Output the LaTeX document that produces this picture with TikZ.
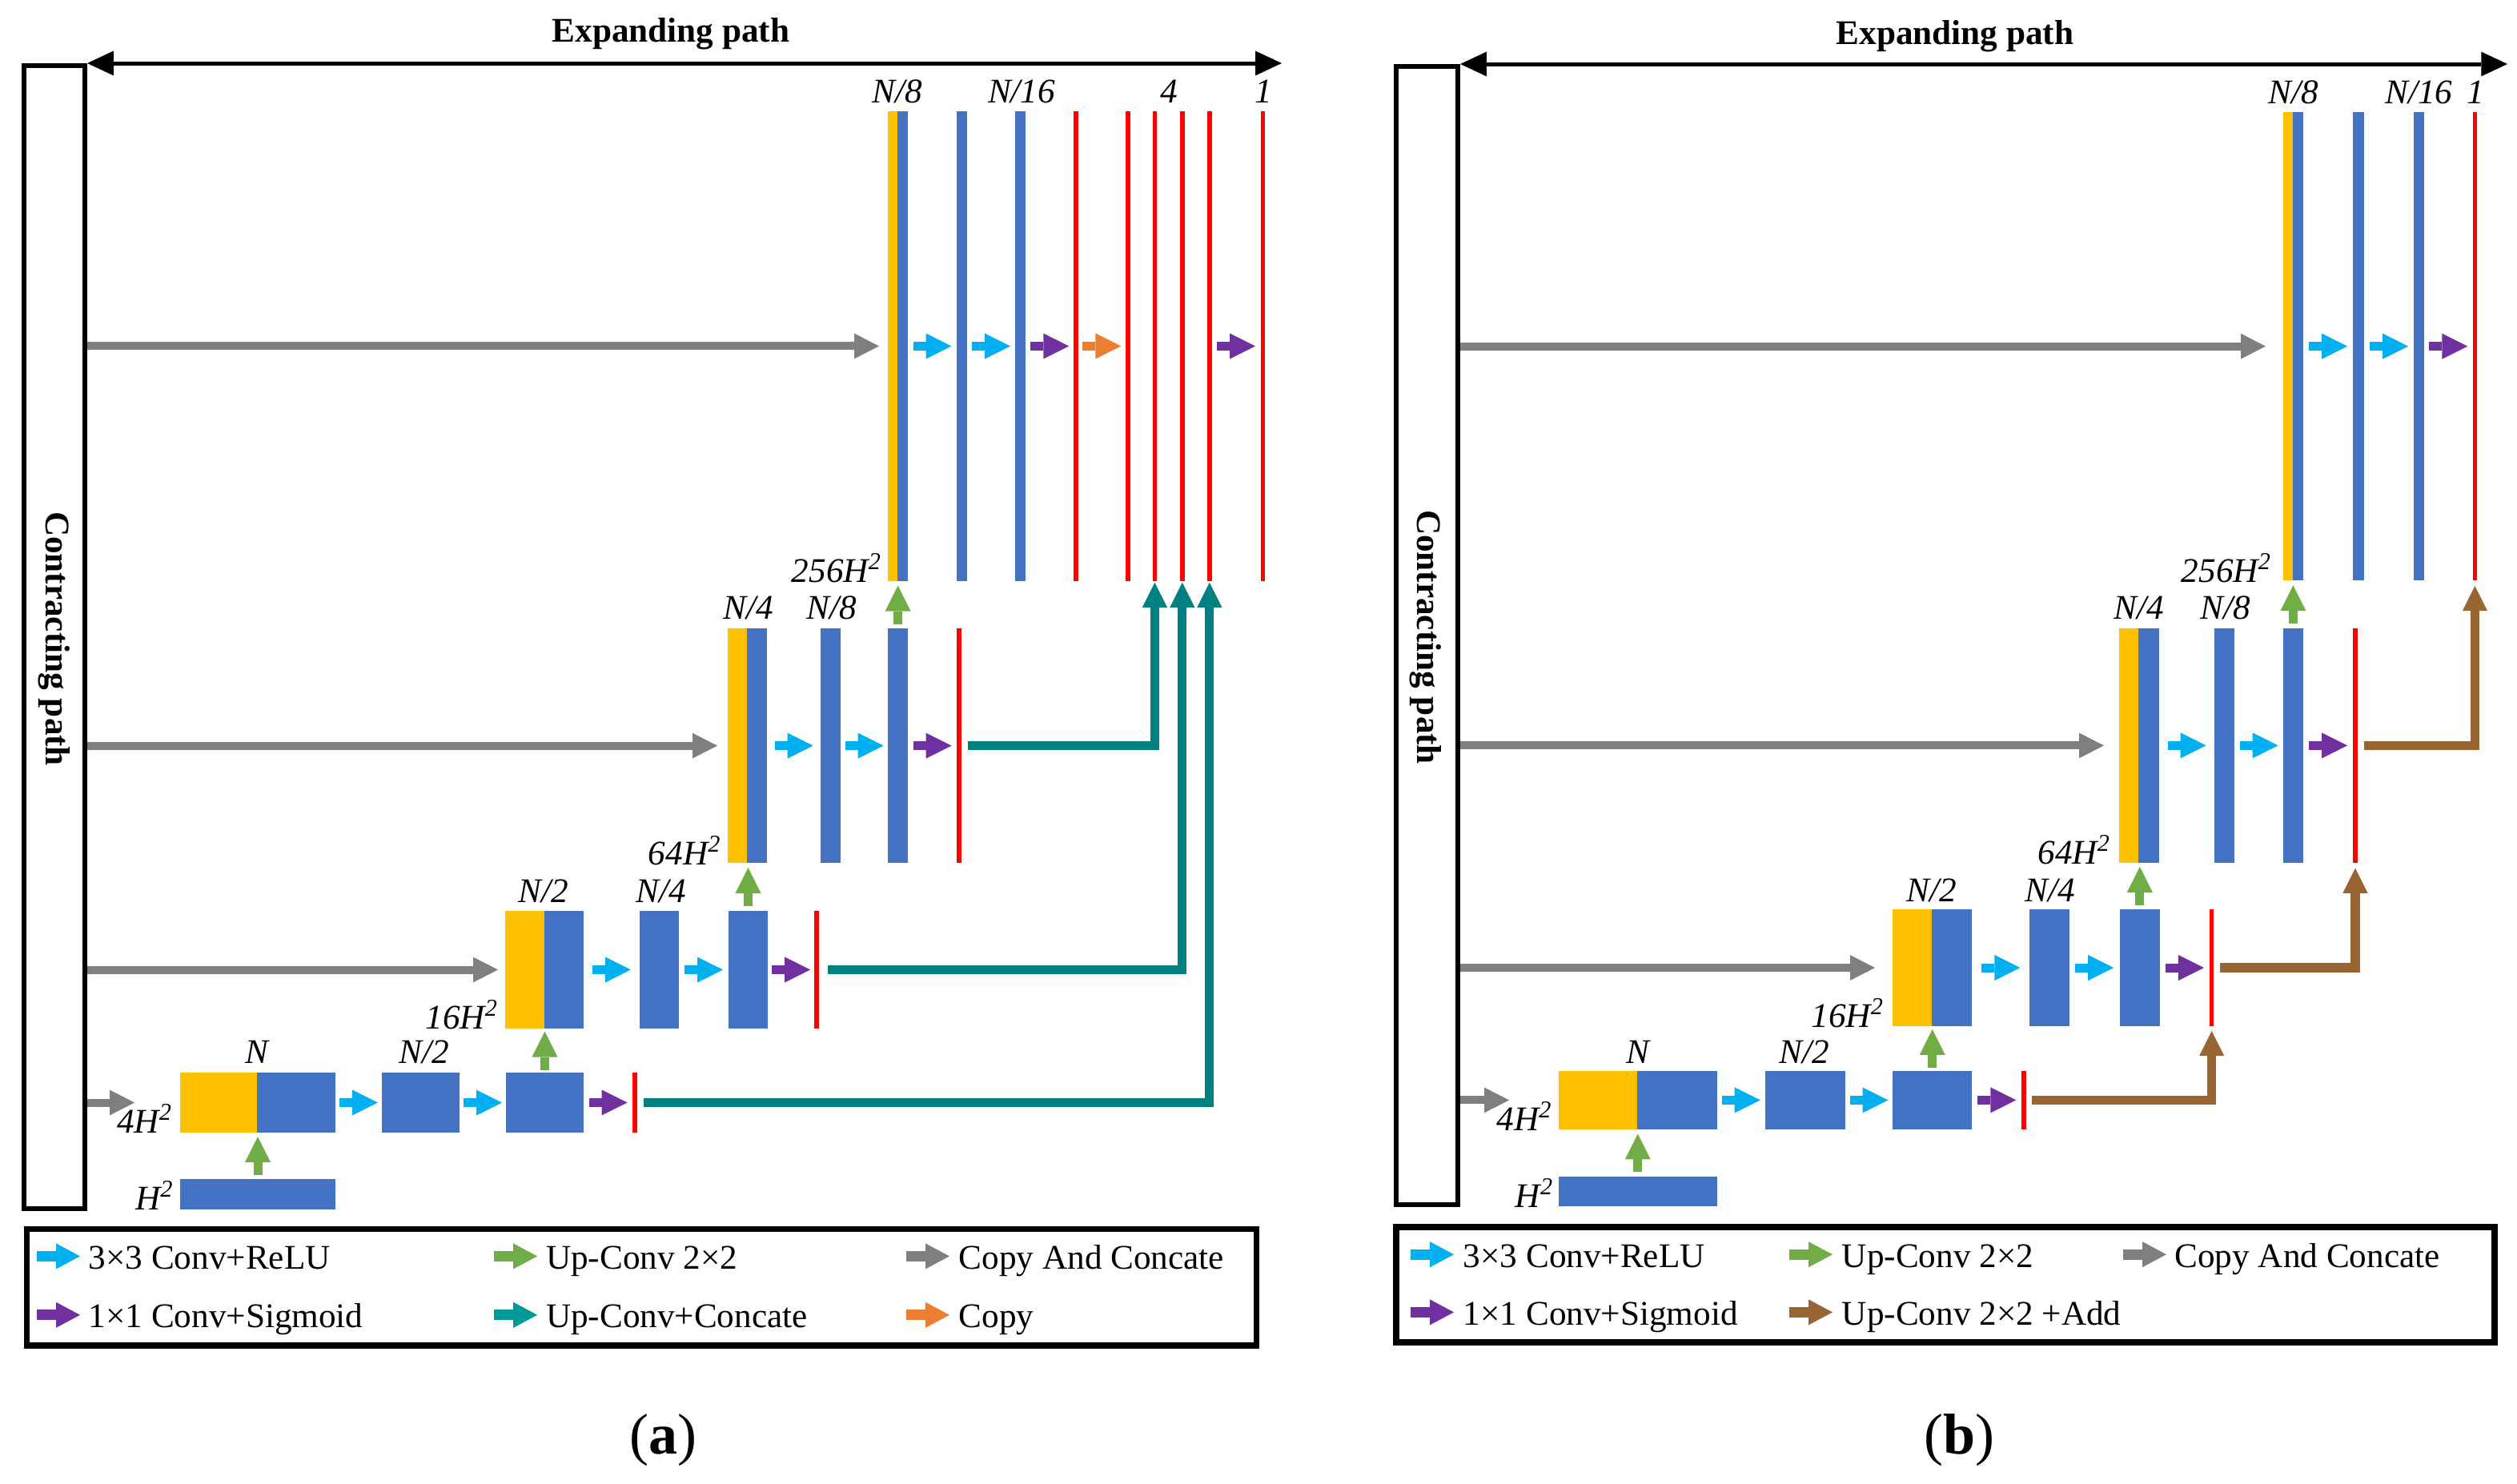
\documentclass[tikz,border=0pt]{standalone}
\usepackage{fontspec}
\setmainfont{Liberation Serif}
\usetikzlibrary{arrows.meta,calc,fit}
\definecolor{yel}{HTML}{FFC000}
\definecolor{blu}{HTML}{4472C4}
\definecolor{cya}{HTML}{00B0F0}
\definecolor{grn}{HTML}{70AD47}
\definecolor{gry}{HTML}{7F7F7F}
\definecolor{pur}{HTML}{7030A0}
\definecolor{tea}{HTML}{008080}
\definecolor{teaL}{HTML}{009999}
\definecolor{ora}{HTML}{ED7D31}
\definecolor{brn}{HTML}{996633}
\definecolor{redc}{HTML}{FF0000}
\newcommand\bx[6]{\node[bar,fill=#6,fit={(#2,#4) (#3,#5)}] (#1) {};}
\newcommand\rl[4]{\node[bar,fill=redc,fit={(#2-1.35,#3) (#2+1.35,#4)}] (#1) {};}
\newcommand\legitem[6]{\coordinate (#1) at (#2,#3); \draw[leg,#4] (#1) -- ++(27,0);
  \node[anchor=base west,inner sep=0pt] (#1t) at (#6,#3+8) {#5};}
\newcommand\HH[1]{#1H\textsuperscript{2}}
\begin{document}
\fontsize{10.8}{13}\selectfont
\begin{tikzpicture}[x=0.5pt,y=-0.5pt,
  bar/.style={inner sep=0pt,outer sep=0pt,draw=none},
  lbl/.style={inner sep=0pt,outer sep=0pt,font=\itshape,anchor=base},
  lble/.style={inner sep=0pt,outer sep=0pt,font=\itshape,anchor=base east},
  blk/.style={line width=2.75pt,-{Triangle[length=8pt,width=8pt,line width=0pt]}},
  cpyarr/.style={line width=2.5pt,color=gry,-{Triangle[length=7.7pt,width=7.9pt,line width=0pt]}},
  conn/.style={line width=2.8pt,-{Triangle[length=7.8pt,width=7.8pt,line width=0pt]}},
  leg/.style={line width=3.3pt,-{Triangle[length=7.5pt,width=8pt,line width=0pt]}},
  exparr/.style={line width=1.25pt,{Triangle[length=8.2pt,width=7.7pt,line width=0pt]}-{Triangle[length=8.2pt,width=7.7pt,line width=0pt]}},
  midh/.style={to path={($(\tikztostart.east)!0.5!(\tikztotarget.west)+(-12,0)$) -- ++(24,0)}},
  midv/.style={to path={($(\tikztostart.north)!0.5!(\tikztotarget)+(0,12)$) -- ++(0,-24)}},
  cpbox/.style={draw,line width=1.5pt,inner sep=0pt},
  legbox/.style={draw,line width=1.8pt,inner sep=0pt},
]
\useasboundingbox (0,0) rectangle (1572,926.5);

%%%%%%%%%%%%%%%%%%%% PANEL (a) %%%%%%%%%%%%%%%%%%%%
\node[cpbox,minimum width=19pt,minimum height=357pt] (cpA) at (34,398) {};
\node[font=\bfseries,rotate=-90] (cpAt) at (34,399) {Contracting path};
\coordinate (expAe) at (800.5,39.5);
\draw[exparr] (cpA.north east) -- (expAe);
\node[font=\bfseries,anchor=base,inner sep=0pt] (expAt) at (419,26.3) {Expanding path};

% row 1
\bx{A1y}{554.5}{560.6}{69.4}{363}{yel}
\bx{A1b}{560.6}{567}{69.4}{363}{blu}
\bx{A1c}{597.5}{604}{69.4}{363}{blu}
\bx{A1d}{634}{640.7}{69.4}{363}{blu}
\rl{R1}{671.9}{69.4}{363}
\rl{R2}{704.4}{69.4}{363}
\rl{R3}{721.2}{69.4}{363}
\rl{R4}{738.4}{69.4}{363}
\rl{R5}{755.4}{69.4}{363}
\rl{R6}{788.6}{69.4}{363}
\draw[cpyarr,shorten >=2.75pt] (cpA.east |- A1y.west) -- (A1y.west);
\draw[blk,cya] (A1b) to[midh] (A1c);
\draw[blk,cya] (A1c) to[midh] (A1d);
\draw[blk,pur] (A1d) to[midh] (R1);
\draw[blk,ora] (R1) to[midh] (R2);
\draw[blk,pur] (R5) to[midh] (R6);
\node[lbl] (la1) at (560.4,64) {N/8};
\node[lbl] (la2) at (638,64) {N/16};
\node[lbl] (la3) at (730,64) {4};
\node[lbl] (la4) at (789,64) {1};
\node[lble] (la5) at (551,363.5) {\HH{256}};

% row 2
\bx{A2y}{454.4}{466.6}{392.6}{539}{yel}
\bx{A2b}{466.6}{479}{392.6}{539}{blu}
\bx{A2c}{512.5}{525}{392.6}{539}{blu}
\bx{A2d}{554.6}{567}{392.6}{539}{blu}
\rl{A2r}{599}{392.6}{539}
\draw[cpyarr,shorten >=3.2pt] (cpA.east |- A2y.west) -- (A2y.west);
\draw[blk,cya] (A2b) to[midh] (A2c);
\draw[blk,cya] (A2c) to[midh] (A2d);
\draw[blk,pur] (A2d) to[midh] (A2r);
\draw[blk,grn] (A2d) to[midv] (A2d.north |- A1b.south);
\draw[conn,tea,shorten <=2.1pt,shorten >=0.45pt] (A2r.east) -| (R3.south);
\node[lbl] (la6) at (467.5,386.6) {N/4};
\node[lbl] (la7) at (519.5,386.6) {N/8};
\node[lble] (la8) at (450.7,540) {\HH{64}};

% row 3
\bx{A3y}{315.3}{340}{569}{642.5}{yel}
\bx{A3b}{340}{364.4}{569}{642.5}{blu}
\bx{A3c}{399.5}{424}{569}{642.5}{blu}
\bx{A3d}{455}{479.5}{569}{642.5}{blu}
\rl{A3r}{510}{569}{642.5}
\draw[cpyarr,shorten >=2.15pt] (cpA.east |- A3y.west) -- (A3y.west);
\draw[blk,cya] (A3b) to[midh] (A3c);
\draw[blk,cya] (A3c) to[midh] (A3d);
\draw[blk,pur] (A3d) to[midh] (A3r);
\draw[blk,grn] (A3d) to[midv] (A3d.north |- A2y.south);
\draw[conn,tea,shorten <=2.8pt,shorten >=0.45pt] (A3r.east) -| (R4.south);
\node[lbl] (la9) at (339.5,563.8) {N/2};
\node[lbl] (la10) at (413,563.8) {N/4};
\node[lble] (la11) at (311.5,642.5) {\HH{16}};

% row 4
\bx{A4y}{112.6}{160.7}{670}{707.5}{yel}
\bx{A4b}{160.7}{209.4}{670}{707.5}{blu}
\bx{A4c}{238.5}{287}{670}{707.5}{blu}
\bx{A4d}{316}{364.5}{670}{707.5}{blu}
\rl{A4r}{396.4}{670}{707.5}
\bx{A0}{112.6}{209.4}{736.7}{755.3}{blu}
\coordinate (g4A) at (84,688.75);
\draw[cpyarr] (cpA.east |- g4A) -- (g4A);
\draw[blk,cya] (A4b) to[midh] (A4c);
\draw[blk,cya] (A4c) to[midh] (A4d);
\draw[blk,pur] (A4d) to[midh] (A4r);
\draw[blk,grn] (A0) to[midv] (A0.north |- A4y.south);
\draw[blk,grn] (A4d) to[midv] (A4d.north |- A3y.south);
\draw[conn,tea,shorten <=2.1pt,shorten >=0.45pt] (A4r.east) -| (R5.south);
\node[lbl] (la12) at (160.7,664) {N};
\node[lbl] (la13) at (265,664) {N/2};
\node[lble] (la14) at (108,707.5) {\HH{4}};
\node[lble] (la15) at (108.7,755.8) {\HH{}};

% legend (a)
\node[legbox,minimum width=384pt,minimum height=36.4pt] (legA) at (400.7,804.1) {};
\legitem{lA1}{23}{784.7}{cya}{3×3 Conv+ReLU}{55}
\legitem{lA2}{308.6}{784.7}{grn}{Up-Conv 2×2}{340.6}
\legitem{lA3}{566}{784.7}{gry}{Copy And Concate}{598.5}
\legitem{lA4}{23}{821.4}{pur}{1×1 Conv+Sigmoid}{55}
\legitem{lA5}{308.6}{821.4}{teaL}{Up-Conv+Concate}{340.6}
\legitem{lA6}{566}{821.4}{ora}{Copy}{598.5}
\node[font=\fontsize{18}{21}\selectfont] (capA) at (414,899.5) {(\textbf{a})};

%%%%%%%%%%%%%%%%%%%% PANEL (b) %%%%%%%%%%%%%%%%%%%%
\node[cpbox,minimum width=19.25pt,minimum height=355.6pt] (cpB) at (891.25,397.1) {};
\node[font=\bfseries,rotate=-90] (cpBt) at (890.5,398) {Contracting path};
\coordinate (expBe) at (1566,40);
\draw[exparr] (cpB.north east) -- (expBe);
\node[font=\bfseries,anchor=base,inner sep=0pt] (expBt) at (1221,27.5) {Expanding path};

% row 1
\bx{B1y}{1426}{1432}{70}{362.6}{yel}
\bx{B1b}{1432}{1438.4}{70}{362.6}{blu}
\bx{B1c}{1469.7}{1476.6}{70}{362.6}{blu}
\bx{B1d}{1507.5}{1514}{70}{362.6}{blu}
\rl{B1r}{1545.7}{70}{362.6}
\draw[cpyarr,shorten >=5.5pt] (cpB.east |- B1y.west) -- (B1y.west);
\draw[blk,cya] (B1b) to[midh] (B1c);
\draw[blk,cya] (B1c) to[midh] (B1d);
\draw[blk,pur] (B1d) to[midh] (B1r);
\node[lbl] (lb1) at (1432.4,64.7) {N/8};
\node[lbl] (lb2) at (1510.7,64.7) {N/16};
\node[lbl] (lb3) at (1546,64.7) {1};
\node[lble] (lb4) at (1419,363.5) {\HH{256}};

% row 2
\bx{B2y}{1323.3}{1335.7}{392.6}{538.8}{yel}
\bx{B2b}{1335.7}{1348.6}{392.6}{538.8}{blu}
\bx{B2c}{1383}{1395.6}{392.6}{538.8}{blu}
\bx{B2d}{1426}{1438.4}{392.6}{538.8}{blu}
\rl{B2r}{1471}{392.6}{538.8}
\draw[cpyarr,shorten >=4.65pt] (cpB.east |- B2y.west) -- (B2y.west);
\draw[blk,cya] (B2b) to[midh] (B2c);
\draw[blk,cya] (B2c) to[midh] (B2d);
\draw[blk,pur] (B2d) to[midh] (B2r);
\draw[blk,grn] (B2d) to[midv] (B2d.north |- B1b.south);
\draw[conn,brn,shorten <=2.1pt,shorten >=1.7pt] (B2r.east) -| (B1r.south);
\node[lbl] (lb5) at (1335.7,386.8) {N/4};
\node[lbl] (lb6) at (1390,386.8) {N/8};
\node[lble] (lb7) at (1318.5,539.7) {\HH{64}};

% row 3
\bx{B3y}{1182}{1206.3}{568}{641}{yel}
\bx{B3b}{1206.3}{1231.7}{568}{641}{blu}
\bx{B3c}{1267.6}{1292.4}{568}{641}{blu}
\bx{B3d}{1323.8}{1349}{568}{641}{blu}
\rl{B3r}{1381.3}{568}{641}
\draw[cpyarr,shorten >=5.5pt] (cpB.east |- B3y.west) -- (B3y.west);
\draw[blk,cya] (B3b) to[midh] (B3c);
\draw[blk,cya] (B3c) to[midh] (B3d);
\draw[blk,pur] (B3d) to[midh] (B3r);
\draw[blk,grn] (B3d) to[midv] (B3d.north |- B2y.south);
\draw[conn,brn,shorten <=1.9pt,shorten >=1.75pt] (B3r.east) -| (B2r.south);
\node[lbl] (lb8) at (1206.4,563) {N/2};
\node[lbl] (lb9) at (1280.5,563) {N/4};
\node[lble] (lb10) at (1177,641.8) {\HH{16}};

% row 4
\bx{B4y}{973.4}{1022.7}{668.9}{705.5}{yel}
\bx{B4b}{1022.7}{1072.4}{668.9}{705.5}{blu}
\bx{B4c}{1102.3}{1152.5}{668.9}{705.5}{blu}
\bx{B4d}{1182}{1231.7}{668.9}{705.5}{blu}
\rl{B4r}{1264}{668.9}{705.5}
\bx{B0}{973.4}{1072.4}{734.9}{753.7}{blu}
\coordinate (g4B) at (942.5,687.2);
\draw[cpyarr] (cpB.east |- g4B) -- (g4B);
\draw[blk,cya] (B4b) to[midh] (B4c);
\draw[blk,cya] (B4c) to[midh] (B4d);
\draw[blk,pur] (B4d) to[midh] (B4r);
\draw[blk,grn] (B0) to[midv] (B0.north |- B4y.south);
\draw[blk,grn] (B4d) to[midv] (B4d.north |- B3y.south);
\draw[conn,brn,shorten <=1.8pt,shorten >=1.5pt] (B4r.east) -| (B3r.south);
\node[lbl] (lb11) at (1023,664) {N};
\node[lbl] (lb12) at (1127,664) {N/2};
\node[lble] (lb13) at (969.7,706) {\HH{4}};
\node[lble] (lb14) at (970.6,754.3) {\HH{}};

% legend (b)
\node[legbox,minimum width=343pt,minimum height=36pt] (legB) at (1215,802.5) {};
\legitem{lB1}{881}{783.6}{cya}{3×3 Conv+ReLU}{913.5}
\legitem{lB2}{1117.5}{783.6}{grn}{Up-Conv 2×2}{1150}
\legitem{lB3}{1326}{783.6}{gry}{Copy And Concate}{1357.8}
\legitem{lB4}{881}{819.7}{pur}{1×1 Conv+Sigmoid}{913.5}
\legitem{lB5}{1117.5}{819.7}{brn}{Up-Conv 2×2 +Add}{1150}
\node[font=\fontsize{18}{21}\selectfont] (capB) at (1223.6,899.5) {(\textbf{b})};
\end{tikzpicture}
\end{document}
